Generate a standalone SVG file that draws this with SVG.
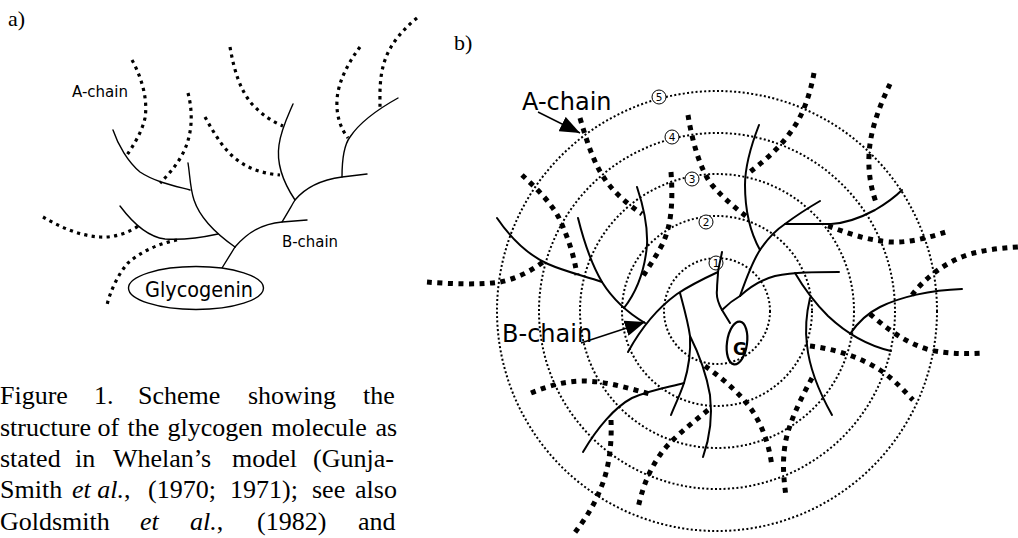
<svg xmlns="http://www.w3.org/2000/svg" width="1018" height="538" viewBox="0 0 1018 538">
  <style>
    .sa{fill:none;stroke:#000;stroke-width:1.4;stroke-linecap:round}
    .da{fill:none;stroke:#000;stroke-width:3.2;stroke-dasharray:3.2 4.3}
    .sb{fill:none;stroke:#000;stroke-width:2;stroke-linecap:round}
    .db{fill:none;stroke:#000;stroke-width:5;stroke-dasharray:5 5.5}
    .ring{fill:none;stroke:#000;stroke-width:2;stroke-dasharray:2 2.3}
    .sans{font-family:"DejaVu Sans","Noto Sans",sans-serif;fill:#000}
    .serif{font-family:"Liberation Serif","Times New Roman",serif;fill:#000}
    .cap{font-family:"Liberation Serif","Times New Roman",serif;font-size:26px;fill:#000}
    .badge{fill:#fff;stroke:#000;stroke-width:1}
    .num{font-family:"DejaVu Sans",sans-serif;font-size:10.5px;fill:#000;text-anchor:middle}
  </style>
  <defs>
    <marker id="head" viewBox="0 0 20 16" refX="20" refY="8" markerWidth="20" markerHeight="16" markerUnits="userSpaceOnUse" orient="auto">
      <path d="M0,0 L20,8 L0,16 Z" fill="#000"/>
    </marker>
  </defs>
  <rect width="1018" height="538" fill="#fff"/>

  <!-- ===== Panel a: branched tree ===== -->
  <text class="serif" x="8" y="26" font-size="22">a)</text>

  <g id="a-connectors">
    <!-- solid B-chains -->
    <path class="sa" d="M222,268 L235,247"/>
    <path class="sa" d="M235,247 C248,232 262,224 282,222 L307,220"/>
    <path class="sa" d="M282,222 C288,212 292,205 295,200 C305,188 320,180 342,177 L367,174"/>
    <path class="sa" d="M295,200 C285,185 276,165 279,145 C281,130 287,118 293,104"/>
    <path class="sa" d="M342,177 C342,160 344,145 350,137 C360,122 380,108 398,98"/>
    <path class="sa" d="M235,247 C215,233 200,218 194,200 C190,188 190,175 188,163"/>
    <path class="sa" d="M190,190 C175,186 155,182 140,172 C128,162 118,145 113,130"/>
    <path class="sa" d="M218,234 C200,238 182,240 165,239 C148,237 132,222 120,206"/>
    <!-- dotted A-chains -->
    <path class="da" d="M132,60 C142,78 148,100 145,118 C142,132 133,146 127,155"/>
    <path class="da" d="M188,93 C193,112 193,135 182,155 C176,166 168,175 160,183"/>
    <path class="da" d="M205,117 C215,135 225,152 240,162 C253,171 268,174 280,175"/>
    <path class="da" d="M230,47 C234,70 240,90 252,104 C262,115 273,122 283,126"/>
    <path class="da" d="M360,47 C348,63 338,82 337,100 C336,118 342,130 348,138"/>
    <path class="da" d="M417,18 C402,30 390,45 385,60 C379,77 380,95 380,107"/>
    <path class="da" d="M43,217 C60,227 80,236 100,237 C115,238 130,232 140,225"/>
    <path class="da" d="M177,240 C160,243 140,252 128,263 C118,274 110,292 107,305"/>
  </g>

  <g id="a-glycogenin">
    <ellipse cx="196" cy="288" rx="67.5" ry="21.5" fill="#fff" stroke="#000" stroke-width="1.4"/>
    <text class="sans" x="145" y="297" font-size="21" textLength="108" lengthAdjust="spacingAndGlyphs">Glycogenin</text>
  </g>
  <g id="a-labels">
    <text class="sans" x="72" y="97" font-size="15" textLength="56" lengthAdjust="spacingAndGlyphs">A-chain</text>
    <text class="sans" x="282" y="247" font-size="15" textLength="56" lengthAdjust="spacingAndGlyphs">B-chain</text>
  </g>

  <!-- ===== Caption ===== -->
  <g id="caption" class="cap">
    <text y="404"><tspan x="0">Figure</tspan><tspan x="94">1.</tspan><tspan x="138">Scheme</tspan><tspan x="248">showing</tspan><tspan x="363">the</tspan></text>
    <text y="436"><tspan x="0">structure</tspan><tspan x="97.5">of</tspan><tspan x="127.5">the</tspan><tspan x="167.5">glycogen</tspan><tspan x="271.5">molecule</tspan><tspan x="375.5">as</tspan></text>
    <text y="467"><tspan x="0">stated</tspan><tspan x="75">in</tspan><tspan x="113">Whelan’s</tspan><tspan x="232">model</tspan><tspan x="313">(Gunja-</tspan></text>
    <text y="498"><tspan x="0">Smith</tspan><tspan x="72" font-style="italic">et al.</tspan><tspan>,</tspan><tspan x="148">(1970;</tspan><tspan x="230">1971);</tspan><tspan x="312">see</tspan><tspan x="355">also</tspan></text>
    <text y="530"><tspan x="0">Goldsmith</tspan><tspan x="140" font-style="italic">et</tspan><tspan x="190" font-style="italic">al.</tspan><tspan>,</tspan><tspan x="257">(1982)</tspan><tspan x="358">and</tspan></text>
  </g>

  <!-- ===== Panel b: concentric tiers ===== -->
  <text class="serif" x="454" y="50" font-size="22">b)</text>

  <g id="b-tiers">
    <circle class="ring" cx="717" cy="311" r="53"/>
    <circle class="ring" cx="717" cy="311" r="95"/>
    <circle class="ring" cx="717" cy="311" r="137"/>
    <circle class="ring" cx="717" cy="311" r="178"/>
    <circle class="ring" cx="717" cy="311" r="220"/>
  </g>
  <g id="b-tier-numbers">
    <circle class="badge" cx="659" cy="97" r="7"/><text class="num" x="659" y="101">5</text>
    <circle class="badge" cx="672" cy="137" r="7"/><text class="num" x="672" y="141">4</text>
    <circle class="badge" cx="692" cy="179" r="7"/><text class="num" x="692" y="183">3</text>
    <circle class="badge" cx="706" cy="222" r="7"/><text class="num" x="706" y="226">2</text>
    <circle class="badge" cx="716" cy="263" r="7"/><text class="num" x="716" y="267">1</text>
  </g>

  <g id="b-connectors">
    <!-- dotted A-chains -->
    <path class="db" d="M580,118 C588,145 595,168 610,186 C620,198 632,207 642,214"/>
    <path class="db" d="M522,175 C535,187 552,203 560,220 C568,238 574,255 577,275"/>
    <path class="db" d="M671,172 C673,200 672,225 662,245 C655,258 648,268 642,278"/>
    <path class="db" d="M688,115 C692,140 700,170 712,185 C725,200 738,210 747,217"/>
    <path class="db" d="M814,73 C810,95 803,115 792,130 C780,148 765,160 750,172"/>
    <path class="db" d="M890,84 C880,105 870,130 869,155 C868,175 872,192 877,205"/>
    <path class="db" d="M828,226 C845,232 865,240 890,242 C910,243 930,237 946,232"/>
    <path class="db" d="M912,295 C925,278 945,262 970,254 C985,250 1000,248 1018,247"/>
    <path class="db" d="M870,314 C885,327 905,343 930,350 C950,354 965,354 983,353"/>
    <path class="db" d="M810,346 C835,349 860,357 880,370 C895,380 905,392 913,400"/>
    <path class="db" d="M812,378 C800,400 788,425 785,445 C782,465 784,480 786,497"/>
    <path class="db" d="M705,366 C725,380 745,398 755,415 C765,432 770,450 772,467"/>
    <path class="db" d="M708,410 C690,425 670,440 660,455 C648,472 642,490 638,508"/>
    <path class="db" d="M531,393 C548,386 565,381 583,381 C605,381 628,388 650,394"/>
    <path class="db" d="M611,420 C612,445 609,470 600,490 C593,508 583,522 573,535"/>
    <path class="db" d="M427,282 C450,284 480,285 500,282 C515,279 530,272 543,262"/>

    <!-- solid B-chains -->
    <path class="sb" d="M497,218 C512,240 528,255 548,264 C566,272 585,276 602,282"/>
    <path class="sb" d="M578,218 C584,242 592,265 602,282 C612,298 628,313 645,323"/>
    <path class="sb" d="M637,187 C643,205 648,225 647,245 C645,268 638,290 624,308"/>
    <path class="sb" d="M628,352 C640,330 655,310 677,294 C692,284 705,278 718,272"/>
    <path class="sb" d="M730,323 L722,310 C718,303 716,297 717,290 C717,282 718,277 718,272 C719,265 721,258 722,252"/>
    <path class="sb" d="M722,310 C728,304 733,300 740,296"/>
    <path class="sb" d="M740,296 C745,282 752,262 760,250 C768,238 776,230 785,224 C797,215 808,208 820,201"/>
    <path class="sb" d="M759,125 C752,143 745,165 745,185 C745,210 750,232 760,250"/>
    <path class="sb" d="M785,224 L831,224 C848,223 862,217 875,210 C887,203 895,197 902,190"/>
    <path class="sb" d="M740,296 C750,287 760,280 775,276 C795,272 815,272 839,272"/>
    <path class="sb" d="M795,273 C802,285 812,300 828,316 C845,332 865,345 891,351"/>
    <path class="sb" d="M810,298 C806,315 805,330 807,345 C809,365 818,390 832,415"/>
    <path class="sb" d="M850,334 C858,322 868,313 880,307 C900,297 930,290 962,289"/>
    <path class="sb" d="M680,293 C684,308 688,322 690,336 C691,355 688,370 684,383 C680,395 675,405 671,415"/>
    <path class="sb" d="M690,336 C698,352 706,372 710,395 C713,420 709,440 703,457"/>
    <path class="sb" d="M684,383 C670,387 650,390 632,398 C615,407 597,428 583,452"/>

    <!-- label pointers -->
    <path d="M538,112 L580,133" stroke="#000" stroke-width="1.5" fill="none" marker-end="url(#head)"/>
    <path d="M581,343 L645,322" stroke="#000" stroke-width="1.5" fill="none" marker-end="url(#head)"/>
  </g>

  <g id="b-glycogenin">
    <ellipse cx="737" cy="343" rx="10" ry="21.5" transform="rotate(8 737 343)" fill="none" stroke="#000" stroke-width="2.2"/>
    <text class="sans" x="740" y="355" font-size="17" font-weight="bold" text-anchor="middle">G</text>
  </g>
  <g id="b-labels">
    <text class="sans" x="522" y="110" font-size="24">A-chain</text>
    <text class="sans" x="502" y="342" font-size="24">B-chain</text>
  </g>
</svg>
